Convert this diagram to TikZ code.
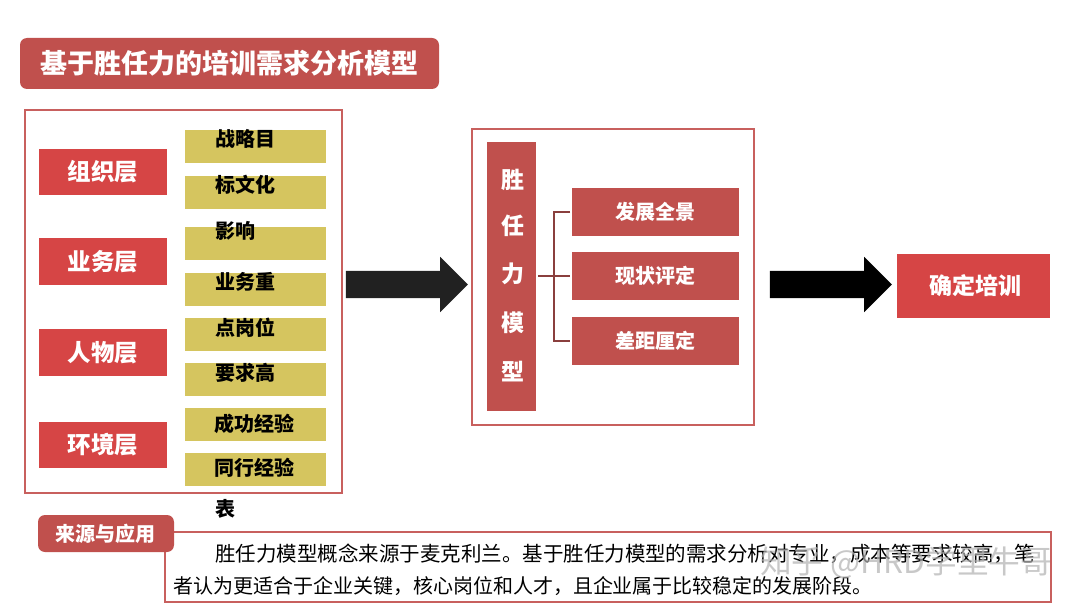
\documentclass[tikz,border=0pt]{standalone}
\usepackage{fontspec}
\setmainfont{Noto Sans CJK SC}
\usetikzlibrary{shapes,arrows,positioning,fit,backgrounds}
\definecolor{brickred}{HTML}{C0504D}
\definecolor{brightred}{HTML}{D64545}
\definecolor{framered}{HTML}{C8605E}
\definecolor{mustard}{HTML}{D5C55F}
\definecolor{spinered}{HTML}{8A3F3D}

\begin{document}
\begin{tikzpicture}[
    x=1pt,y=-1pt,
    inner sep=0pt,outer sep=0pt,
    frame/.style={rectangle,draw=framered,line width=1.8pt,fill=white,anchor=north west},
    layer/.style={rectangle,fill=brightred,text=white,font=\fontsize{23.5}{23.5}\bfseries,minimum width=128.5pt,minimum height=46.5pt},
    band/.style={rectangle,fill=mustard,minimum width=141pt,minimum height=33pt,anchor=north west},
    bandtext/.style={anchor=west,text=black,font=\fontsize{20}{20}\bfseries},
    item/.style={rectangle,fill=brickred,text=white,font=\fontsize{20}{20}\bfseries,minimum width=167pt,minimum height=48pt},
    tag/.style={rectangle,rounded corners=7pt,fill=brickred,text=white},
    bigarrow/.style={single arrow,inner sep=13.5pt,minimum height=122pt,minimum width=55pt,single arrow head extend=14pt},
    body/.style={anchor=west,text=black},
    bracket/.style={draw=spinered,line width=1.5pt}
]
\useasboundingbox (0,0) rectangle (1080,607);

% Title
\node[tag,minimum width=419pt,minimum height=51pt,font=\fontsize{27}{27}\bfseries] (title) at (229.5,63.5) {基于胜任力的培训需求分析模型};

% Left panel
\node[frame,minimum width=317pt,minimum height=383pt] (leftframe) at (25,110) {};
\node[layer] (org) at (103,172) {组织层};
\node[layer,below=43pt of org] (biz) {业务层};
\node[layer,below=44.5pt of biz] (person) {人物层};
\node[layer,below=46pt of person] (env) {环境层};

\node[band] (b1) at (185,130) {};
\node[band,below=13pt of b1] (b2) {};
\node[band,below=18pt of b2] (b3) {};
\node[band,below=13pt of b3] (b4) {};
\node[band,below=12pt of b4] (b5) {};
\node[band,below=12pt of b5] (b6) {};
\node[band,below=12pt of b6] (b7) {};
\node[band,below=12pt of b7] (b8) {};

\node[bandtext] (t1) at (215,139) {战略目};
\node[bandtext] (t2) at (215,185) {标文化};
\node[bandtext] (t3) at (215,231) {影响};
\node[bandtext] (t4) at (215,282) {业务重};
\node[bandtext] (t5) at (215,328) {点岗位};
\node[bandtext] (t6) at (215,373) {要求高};
\node[bandtext] (t7) at (214,424) {成功经验};
\node[bandtext] (t8) at (214,468) {同行经验};
\node[bandtext] (t9) at (215,509) {表};

% Middle panel
\node[frame,minimum width=282pt,minimum height=296pt] (midframe) at (472,129) {};
\node[rectangle,fill=brickred,minimum width=49pt,minimum height=269pt,anchor=north west] (bar) at (487,142) {};
\foreach \name/\ypos/\word in {c1/180/胜,c2/226/任,c3/274/力,c4/323/模,c5/372/型}
    \node[text=white,font=\fontsize{23}{23}\bfseries] (\name) at (513,\ypos) {\word};

\node[item] (scene) at (655.5,212) {发展全景};
\node[item,below=16pt of scene] (status) {现状评定};
\node[item,below=17pt of status] (gap) {差距厘定};

\coordinate (spine) at (554,276);
\draw[bracket] ([xshift=-2pt]scene.west) -| (spine) |- ([xshift=-2pt]gap.west);
\draw[bracket] ([xshift=2pt]bar.east |- spine) -- ([xshift=-2pt]status.west |- spine);

% Output
\node[rectangle,fill=brightred,text=white,font=\fontsize{23}{23}\bfseries,minimum width=153pt,minimum height=64pt] (train) at (973.5,286) {\hspace*{4pt}确定培训};

% Arrows
\node[bigarrow,fill=black!87] (arrowa) at (400,284.5) {};
\node[bigarrow,fill=black] (arrowb) at (824,284.5) {};

% Source and application
\node[frame,minimum width=886pt,minimum height=70pt] (source) at (165,532) {};
\node[tag,minimum width=136pt,minimum height=37pt,font=\fontsize{20}{20}\bfseries] (sourcetag) at (106,533.5) {来源与应用};
\node[body,font=\fontsize{20.5}{20.5}\selectfont] (line1) at (215,554) {胜任力模型概念来源于麦克利兰。基于胜任力模型的需求分析对专业，成本等要求较高，笔};
\node[body,font=\fontsize{20}{20}\selectfont] (line2) at (173,586) {者认为更适合于企业关键，核心岗位和人才，且企业属于比较稳定的发展阶段。};

% Watermark
\node[anchor=west,text=gray!60,opacity=0.7,font=\fontsize{31.7}{31.7}\selectfont] (mark) at (760,563) {知乎 @HRD学里牛哥};

\end{tikzpicture}
\end{document}
